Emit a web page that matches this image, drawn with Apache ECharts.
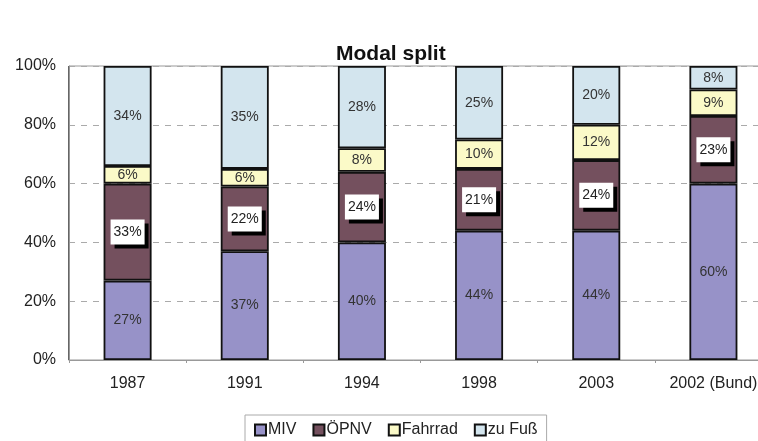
<!DOCTYPE html>
<html>
<head>
<meta charset="utf-8">
<script src="https://cdn.jsdelivr.net/npm/echarts@6/dist/echarts.min.js"></script>
<style>
  html, body { margin: 0; padding: 0; background: #fff; }
  #chart { width: 758px; height: 441px; }
</style>
</head>
<body>
<div id="chart"></div>
<script>
const categories = ["1987", "1991", "1994", "1998", "2003", "2002 (Bund)"];
const miv = [27, 37, 40, 44, 44, 60];
const oepnv = [33, 22, 24, 21, 24, 23];
const fahrrad = [6, 6, 8, 10, 12, 9];
const zuFuss = [34, 35, 28, 25, 20, 8];
const yTicks = [0, 20, 40, 60, 80, 100];

(() => {
  let myChart = echarts.init(document.querySelector("#chart"));
  const font = "Liberation Sans, Arial, sans-serif";
  const plainLabel = {
    show: true,
    position: "inside",
    formatter: "{c}%",
    color: "#333",
    fontSize: 14,
    fontFamily: font,
  };
  const mkSeries = (name, data, color, label) => ({
    name: name,
    type: "bar",
    stack: "total",
    barWidth: 48,
    data: data,
    itemStyle: {
      color: color,
      borderColor: "#111",
      borderWidth: 1.8,
    },
    label: label,
  });
  let option = {
    animation: false,
    title: {
      text: "Modal split",
      left: 331,
      top: 39,
      textStyle: {
        fontFamily: font,
        fontSize: 21,
        fontWeight: "bold",
        color: "#111",
      },
    },
    legend: {
      left: 245,
      top: 415,
      padding: [7, 9, 12, 9],
      itemGap: 16,
      itemWidth: 11,
      itemHeight: 11,
      icon: "rect",
      backgroundColor: "#fff",
      borderColor: "#aaa",
      borderWidth: 1,
      borderRadius: 0,
      textStyle: {
        color: "#222",
        fontSize: 16,
        fontFamily: font,
        padding: [0, 0, 0, -3],
      },
    },
    grid: {
      left: 69,
      width: 703,
      top: 66,
      bottom: 81,
      outerBoundsMode: "none",
      containLabel: false,
      show: true,
      borderColor: "#999",
      borderWidth: 1,
    },
    xAxis: [
      {
        type: "category",
        data: categories,
        axisLine: {
          lineStyle: {
            color: "#999",
          },
        },
        axisTick: {
          show: true,
          length: 3,
          lineStyle: { color: "#999" },
        },
        axisLabel: {
          color: "#222",
          fontSize: 16,
          fontFamily: font,
          margin: 16,
        },
        splitLine: {
          show: true,
          interval: (i) => i === 5,
          lineStyle: {
            color: "#666",
            width: 2,
          },
        },
      },
    ],
    yAxis: [
      {
        type: "value",
        min: yTicks[0],
        max: yTicks[yTicks.length - 1],
        interval: 20,
        axisLine: {
          show: true,
          lineStyle: {
            color: "#999",
          },
        },
        axisTick: { show: false },
        axisLabel: {
          formatter: "{value}%",
          color: "#222",
          fontSize: 16,
          fontFamily: font,
          margin: 13,
        },
        splitLine: {
          lineStyle: {
            color: "#aaa",
            type: [6, 6],
          },
        },
      },
    ],
    series: [
      mkSeries("MIV", miv, "#9792c8", plainLabel),
      mkSeries("ÖPNV", oepnv, "#74505e", {
        show: true,
        position: "inside",
        formatter: "{c}%",
        color: "#222",
        fontSize: 14,
        fontFamily: font,
        backgroundColor: "#fff",
        padding: [6, 3, 5, 3],
        shadowColor: "#000",
        shadowOffsetX: 4,
        shadowOffsetY: 4,
        shadowBlur: 0,
      }),
      mkSeries("Fahrrad", fahrrad, "#fbfac8", plainLabel),
      mkSeries("zu Fuß", zuFuss, "#d3e5ee", plainLabel),
    ],
  };
  myChart.setOption(option);
  window.addEventListener("resize", () => {
    myChart.resize();
  });
})();
</script>
</body>
</html>
